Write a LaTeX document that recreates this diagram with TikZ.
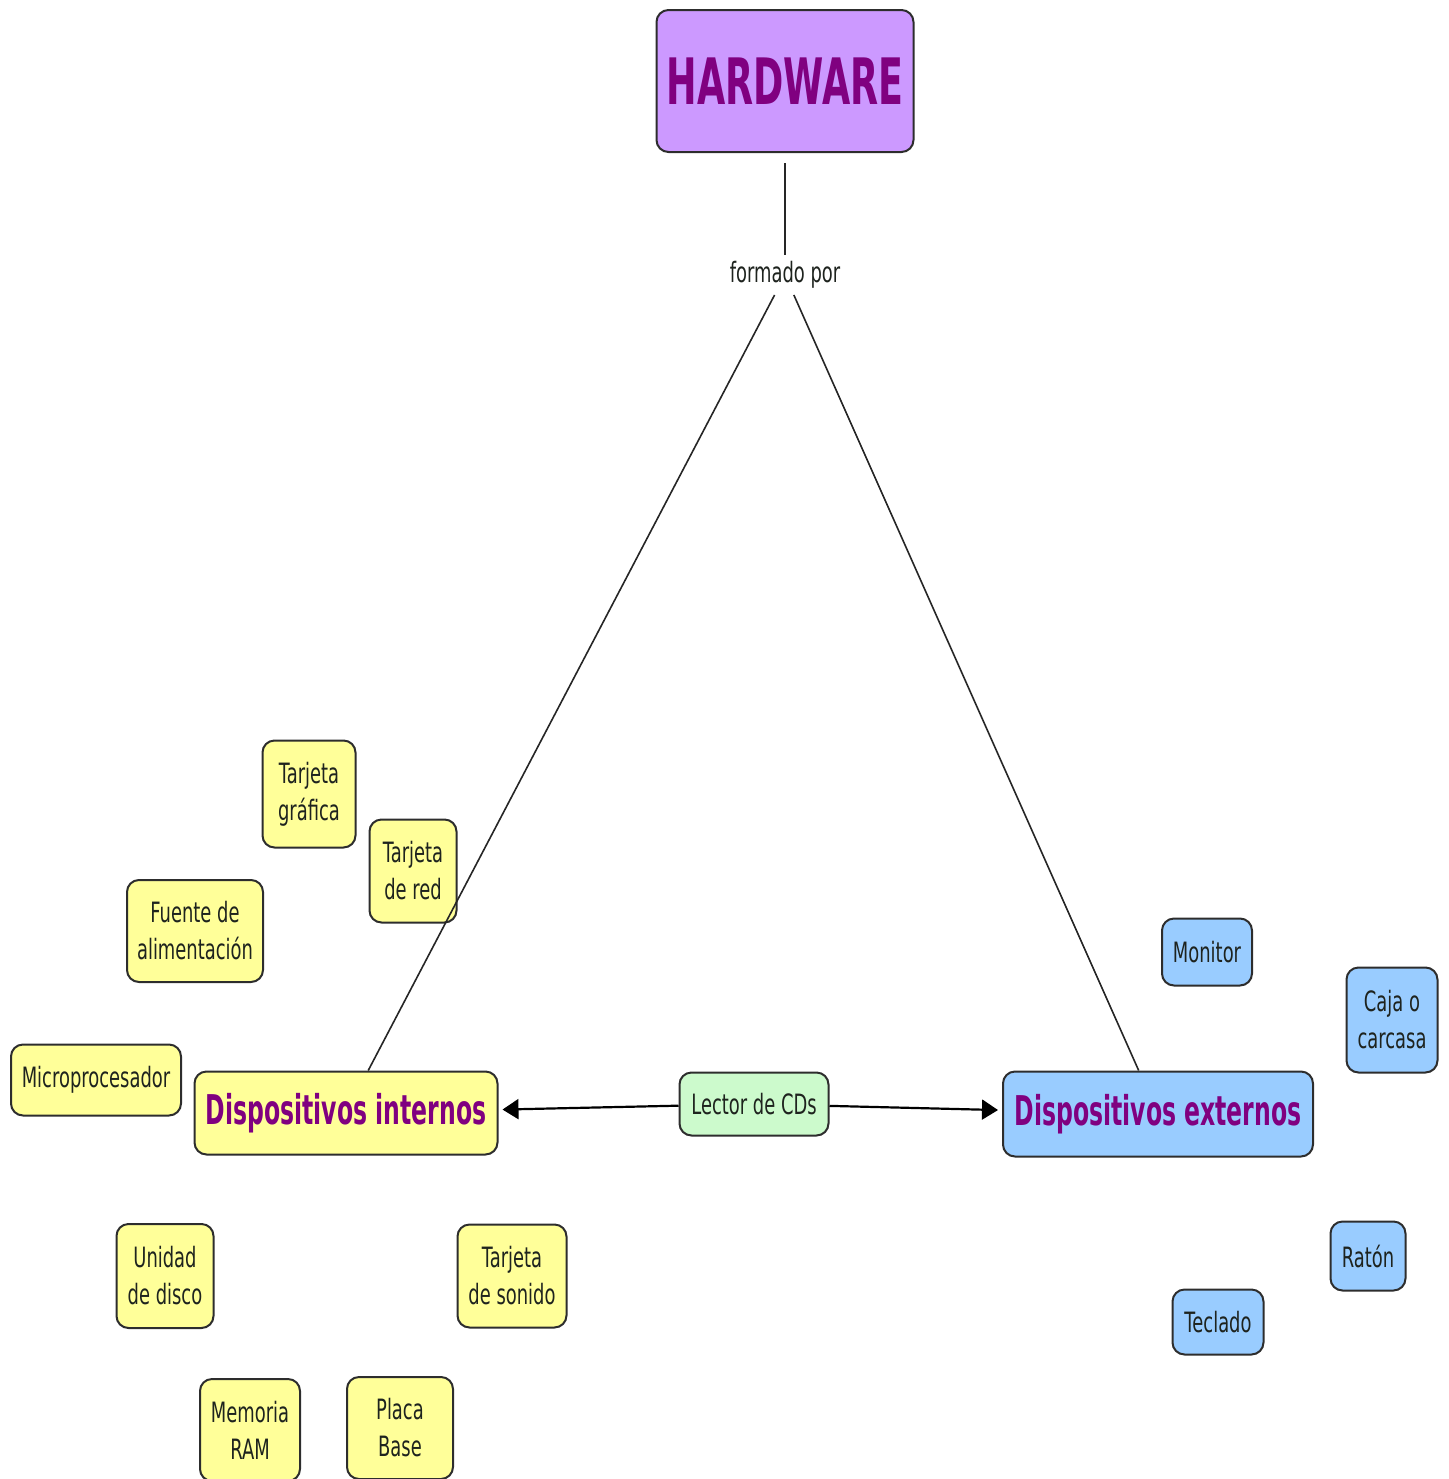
\documentclass[tikz,border=0pt]{standalone}
\usepackage{fontspec}
\setmainfont[FakeStretch=0.64]{DejaVu Sans}
\newfontfamily\titlefont[FakeStretch=0.575]{DejaVu Sans}
\newfontfamily\hwfont[FakeStretch=0.57]{DejaVu Sans}
\usetikzlibrary{arrows.meta}
\definecolor{violetfill}{RGB}{204,153,255}
\definecolor{yellowfill}{RGB}{255,255,153}
\definecolor{greenfill}{RGB}{204,250,204}
\definecolor{bluefill}{RGB}{153,204,255}
\definecolor{edgecol}{RGB}{45,45,45}
\definecolor{titlecol}{RGB}{128,0,128}
\definecolor{textcol}{RGB}{30,35,30}
\begin{document}
\begin{tikzpicture}[x=0.5pt,y=-0.5pt,
  box/.style={draw=edgecol, line width=1pt, rounded corners=6pt, align=center,
    inner sep=0pt, text=textcol, font=\fontsize{14pt}{18.5pt}\selectfont},
  ybox/.style={box, fill=yellowfill},
  bbox/.style={box, fill=bluefill},
  title/.style={box, text=titlecol, font=\titlefont\bfseries\fontsize{20.5pt}{24pt}\selectfont},
  conn/.style={draw=black!85, line width=0.8pt},
  arr/.style={draw=black, line width=1.1pt, -{Triangle[length=8pt,width=10pt]}, shorten >=2pt}
]
\useasboundingbox (0,0) rectangle (1449,1479);

\node[box, fill=violetfill, text=titlecol, font=\hwfont\bfseries\fontsize{32pt}{36pt}\selectfont,
  minimum width=128.5pt, minimum height=71pt] (hw) at (785,81) {HARDWARE};
\node[font=\fontsize{14pt}{16pt}\selectfont, text=textcol, inner sep=3pt] (fp) at (785,275) {formado por};

\node[title, fill=yellowfill, minimum width=151.5pt, minimum height=41.5pt] (di) at (346,1113) {Dispositivos internos};
\node[title, fill=bluefill, minimum width=155pt, minimum height=42.5pt] (de) at (1158,1114) {Dispositivos externos};
\node[box, fill=greenfill, minimum width=74.5pt, minimum height=31.5pt] (cd) at (754,1104) {Lector de CDs};

\node[ybox, minimum width=46.5pt, minimum height=53.5pt] (tg) at (309,794) {Tarjeta\\gráfica};
\node[ybox, minimum width=43.5pt, minimum height=51.5pt] (tr) at (413,871) {Tarjeta\\de red};
\node[ybox, minimum width=68pt, minimum height=51pt] (fa) at (195,931) {Fuente de\\alimentación};
\node[ybox, minimum width=85pt, minimum height=35.5pt] (mp) at (96,1080) {Microprocesador};
\node[ybox, minimum width=48.5pt, minimum height=52pt] (ud) at (165,1276) {Unidad\\de disco};
\node[ybox, minimum width=54.5pt, minimum height=51.5pt] (ts) at (512,1276) {Tarjeta\\de sonido};
\node[ybox, minimum width=50pt, minimum height=51pt] (mr) at (250,1430) {Memoria\\RAM};
\node[ybox, minimum width=53pt, minimum height=51pt] (pb) at (400,1428) {Placa\\Base};

\node[bbox, minimum width=45pt, minimum height=33.5pt] (mo) at (1207,952) {Monitor};
\node[bbox, minimum width=45.5pt, minimum height=52.5pt] (cc) at (1392,1020) {Caja o\\carcasa};
\node[bbox, minimum width=37.5pt, minimum height=34.5pt] (ra) at (1368,1256) {Ratón};
\node[bbox, minimum width=45.5pt, minimum height=32.5pt] (te) at (1218,1322) {Teclado};

\draw[conn, shorten <=5pt] (hw) -- (fp);
\draw[conn] (fp) -- (di);
\draw[conn] (fp) -- (de);
\draw[arr] (cd) -- (di);
\draw[arr] (cd) -- (de);
\end{tikzpicture}
\end{document}
